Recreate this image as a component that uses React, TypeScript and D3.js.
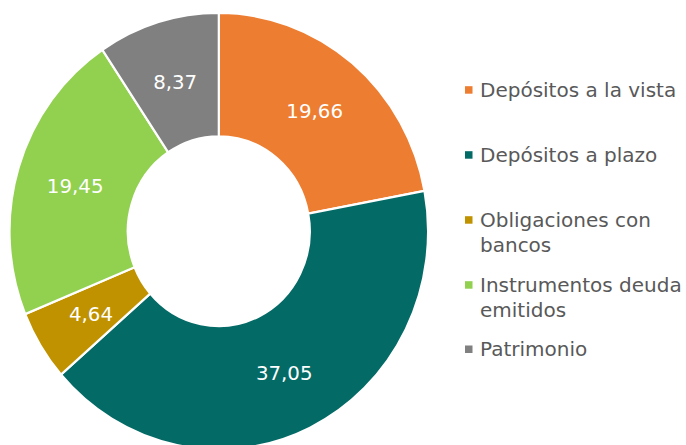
import React from "react";
import * as d3 from "d3";

const categories = [
  "Depósitos a la vista",
  "Depósitos a plazo",
  "Obligaciones con bancos",
  "Instrumentos deuda emitidos",
  "Patrimonio",
];
const values = [19.66, 37.05, 4.64, 19.45, 8.37];
const valueLabels = ["19,66", "37,05", "4,64", "19,45", "8,37"];
const legendLines = [
  ["Depósitos a la vista"],
  ["Depósitos a plazo"],
  ["Obligaciones con", "bancos"],
  ["Instrumentos deuda", "emitidos"],
  ["Patrimonio"],
];
const colors = ["#ED7D31", "#036A66", "#C09200", "#92D050", "#808080"];

const W = 686;
const H = 445;
const cx = 218.8;
const cy = 231.2;
const rOuter = 209.3;
const rInner = 91;
const sy = 1.043;
const FONT = "'DejaVu Sans', Verdana, sans-serif";

const legendTop = [96.7, 161.7, 226.7, 291.7, 356];

export default function App() {
  const pie = d3
    .pie<number>()
    .sort(null)
    .value((d) => d);
  const arcs = pie(values);
  const arc = d3.arc<d3.PieArcDatum<number>>().innerRadius(rInner).outerRadius(rOuter);

  return (
    <svg
      width={W}
      height={H}
      style={{ position: "absolute", left: 0, top: 0, background: "#fff" }}
    >
      <g transform={`translate(${cx},${cy}) scale(1,${sy})`}>
        {arcs.map((a, i) => (
          <path
            key={categories[i]}
            d={arc(a) || ""}
            fill={colors[i]}
            stroke="#fff"
            strokeWidth={2.2}
            strokeLinejoin="miter"
          />
        ))}
      </g>
      {arcs.map((a, i) => {
        const [x, y] = arc.centroid(a);
        return (
          <text
            key={"l" + i}
            x={cx + x}
            y={cy + y * sy}
            dy="0.38em"
            textAnchor="middle"
            fill="#fff"
            fontFamily={FONT}
            fontSize={19.8}
          >
            {valueLabels[i]}
          </text>
        );
      })}
      {legendLines.map((lines, i) => (
        <g key={"lg" + i}>
          <rect
            x={465}
            y={legendTop[i] - 10.5}
            width={7.5}
            height={7.5}
            fill={colors[i]}
          />
          {lines.map((t, j) => (
            <text
              key={j}
              x={480}
              y={legendTop[i] + j * 25}
              fill="#595959"
              fontFamily={FONT}
              fontSize={20}
            >
              {t}
            </text>
          ))}
        </g>
      ))}
    </svg>
  );
}
